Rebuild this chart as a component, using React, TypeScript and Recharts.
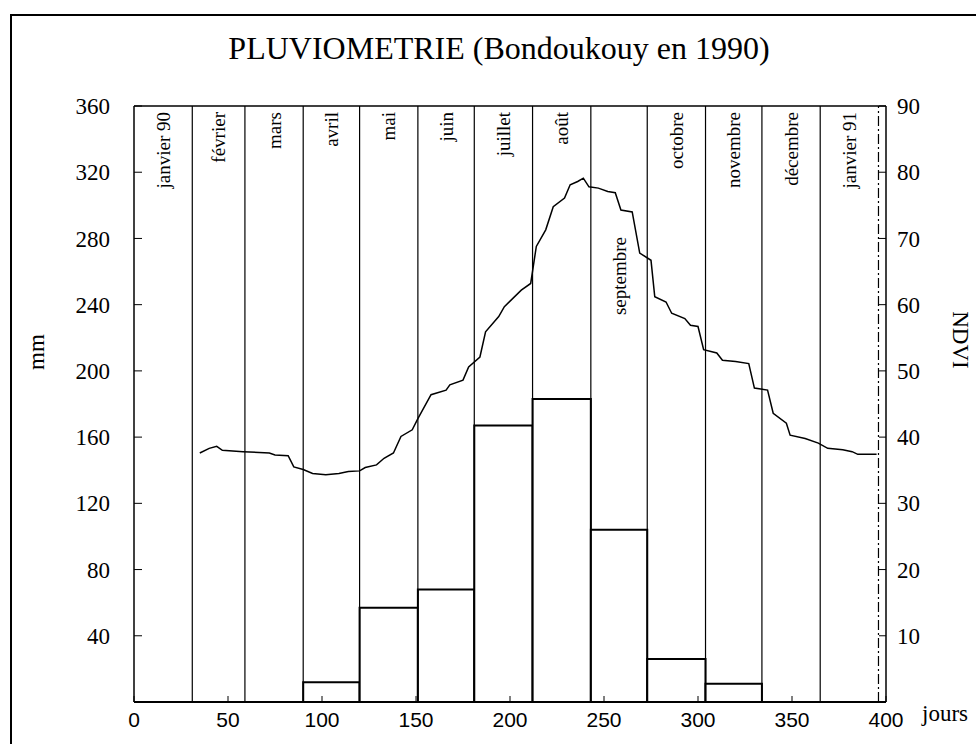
import {
  ComposedChart,
  Line,
  ReferenceArea,
  ReferenceLine,
  XAxis,
  YAxis,
} from "recharts";

// months of the 1990 season (day ranges from 1 Jan 1990)
const monthNames = [
  "janvier 90",
  "février",
  "mars",
  "avril",
  "mai",
  "juin",
  "juillet",
  "août",
  "septembre",
  "octobre",
  "novembre",
  "décembre",
  "janvier 91",
];
const monthStarts = [0, 31, 59, 90, 120, 151, 181, 212, 243, 273, 304, 334, 365];
const monthEnds = [31, 59, 90, 120, 151, 181, 212, 243, 273, 304, 334, 365, 396];

// monthly rainfall, mm
const rainMm = [0, 0, 0, 12, 57, 68, 167, 183, 104, 26, 11, 0, 0];

// NDVI curve
const ndviDays = [
  35, 40, 44, 47, 58, 72, 75, 82, 85, 90, 95, 102, 109, 114, 120, 123, 129, 133, 138, 142,
  148, 151, 158, 166, 168, 175, 178, 184, 187, 194, 197, 206, 211, 214, 219, 223, 229, 232,
  236, 239, 242, 247, 252, 256, 259, 265, 269, 275, 277, 283, 286, 293, 296, 300, 303, 310,
  313, 320, 327, 330, 337, 340, 347, 349, 357, 364, 369, 377, 382, 385, 395,
];
const ndviValues = [
  37.6, 38.3, 38.6, 38.0, 37.8, 37.6, 37.3, 37.2, 35.5, 35.1, 34.5, 34.3, 34.5, 34.8, 34.9,
  35.4, 35.8, 36.8, 37.6, 40.1, 41.1, 42.8, 46.4, 47.1, 47.9, 48.6, 50.6, 52.1, 55.9, 58.2,
  59.7, 62.2, 63.2, 68.8, 71.3, 74.8, 76.1, 78.1, 78.6, 79.1, 77.8, 77.6, 77.1, 76.9, 74.3,
  74.0, 67.8, 66.7, 61.2, 60.4, 58.7, 57.9, 56.9, 56.7, 53.2, 52.7, 51.6, 51.4, 51.1, 47.4,
  47.1, 43.6, 42.1, 40.3, 39.8, 39.1, 38.3, 38.1, 37.8, 37.4, 37.4,
];

const xTicks = [0, 50, 100, 150, 200, 250, 300, 350, 400];
const mmTicks = [40, 80, 120, 160, 200, 240, 280, 320, 360];
const ndviTicks = [10, 20, 30, 40, 50, 60, 70, 80, 90];

const ndviData = ndviDays.map((day, i) => ({ day, ndvi: ndviValues[i] }));

const SERIF = "'Liberation Serif', 'DejaVu Serif', serif";
const SANS = "'Liberation Sans', Arial, sans-serif";

function monthLabel(name: string) {
  // septembre sits below the NDVI peak
  const drop = name === "septembre" ? 131 : 6;
  return (props: any) => {
    const vb = props.viewBox || {};
    const cx = vb.x + vb.width / 2;
    const ty = vb.y + drop;
    return (
      <text
        x={cx}
        y={ty}
        transform={`rotate(-90, ${cx}, ${ty})`}
        textAnchor="end"
        dominantBaseline="central"
        fontFamily={SERIF}
        fontSize={19}
        fill="#000"
      >
        {name}
      </text>
    );
  };
}

export default function App() {
  return (
    <div style={{ position: "absolute", left: 0, top: 0, width: 976, height: 744, background: "#fff" }}>
      <div
        style={{
          position: "absolute",
          left: 10,
          top: 14,
          width: 966,
          height: 740,
          borderLeft: "2px solid #000",
          borderTop: "2px solid #000",
          boxSizing: "border-box",
        }}
      />
      <div
        style={{
          position: "absolute",
          left: 0,
          width: 998,
          top: 28,
          textAlign: "center",
          fontFamily: SERIF,
          fontSize: 32,
          lineHeight: "40px",
        }}
      >
        PLUVIOMETRIE (Bondoukouy en 1990)
      </div>
      <div
        style={{
          position: "absolute",
          left: 37,
          top: 352,
          transform: "translate(-50%, -50%) rotate(-90deg)",
          fontFamily: SERIF,
          fontSize: 23,
          whiteSpace: "nowrap",
        }}
      >
        mm
      </div>
      <div
        style={{
          position: "absolute",
          left: 960,
          top: 340,
          transform: "translate(-50%, -50%) rotate(90deg)",
          fontFamily: SERIF,
          fontSize: 23,
          whiteSpace: "nowrap",
        }}
      >
        NDVI
      </div>
      <div
        style={{
          position: "absolute",
          left: 922,
          top: 700,
          fontFamily: SERIF,
          fontSize: 23,
          lineHeight: "28px",
          whiteSpace: "nowrap",
        }}
      >
        jours
      </div>
      <ComposedChart
        width={976}
        height={744}
        margin={{ top: 106, right: 0, bottom: 0, left: 0 }}
        style={{ position: "absolute", left: 0, top: 0 }}
      >
        <XAxis
          dataKey="day"
          type="number"
          domain={[0, 400]}
          ticks={xTicks}
          allowDataOverflow
          height={42}
          axisLine={{ stroke: "#000", strokeWidth: 2 }}
          tickLine={{ stroke: "#000" }}
          tickSize={-6}
          tickMargin={16}
          tick={{ fontFamily: SANS, fontSize: 21, fill: "#000" }}
          interval={0}
        />
        <YAxis
          yAxisId="mm"
          orientation="left"
          domain={[0, 360]}
          ticks={mmTicks}
          allowDataOverflow
          width={134}
          axisLine={{ stroke: "#000", strokeWidth: 1.5 }}
          tickLine={{ stroke: "#000" }}
          tickSize={-8}
          tickMargin={32}
          tick={{ fontFamily: SERIF, fontSize: 23, fill: "#000" }}
          interval={0}
        />
        <YAxis
          yAxisId="ndvi"
          orientation="right"
          domain={[0, 90]}
          ticks={ndviTicks}
          allowDataOverflow
          width={90}
          axisLine={{ stroke: "#000", strokeWidth: 1.5 }}
          tickLine={{ stroke: "#000" }}
          tickSize={-7}
          tickMargin={18}
          tick={{ fontFamily: SERIF, fontSize: 23, fill: "#000", textAnchor: "start" }}
          interval={0}
        />
        <ReferenceLine yAxisId="mm" y={360} stroke="#000" strokeWidth={1.5} />
        {monthNames.map((name, i) => (
          <ReferenceArea
            key={`lab-${name}`}
            yAxisId="mm"
            x1={monthStarts[i]}
            x2={monthEnds[i]}
            y1={0}
            y2={360}
            fill="none"
            stroke="none"
            label={monthLabel(name)}
          />
        ))}
        {monthEnds.map((d, i) => (
          <ReferenceLine
            key={`div-${d}`}
            yAxisId="mm"
            x={d}
            stroke="#000"
            strokeWidth={1.2}
            strokeDasharray={i === monthEnds.length - 1 ? "10 3 2 3" : undefined}
          />
        ))}
        {rainMm.map((v, i) =>
          v > 0 ? (
            <ReferenceArea
              key={`rain-${i}`}
              yAxisId="mm"
              x1={monthStarts[i]}
              x2={monthEnds[i]}
              y1={0}
              y2={v}
              fill="#fff"
              fillOpacity={1}
              stroke="#000"
              strokeWidth={2}
            />
          ) : null
        )}
        <Line
          yAxisId="ndvi"
          data={ndviData}
          dataKey="ndvi"
          type="linear"
          stroke="#000"
          strokeWidth={1.5}
          dot={false}
          activeDot={false}
          isAnimationActive={false}
        />
      </ComposedChart>
    </div>
  );
}
